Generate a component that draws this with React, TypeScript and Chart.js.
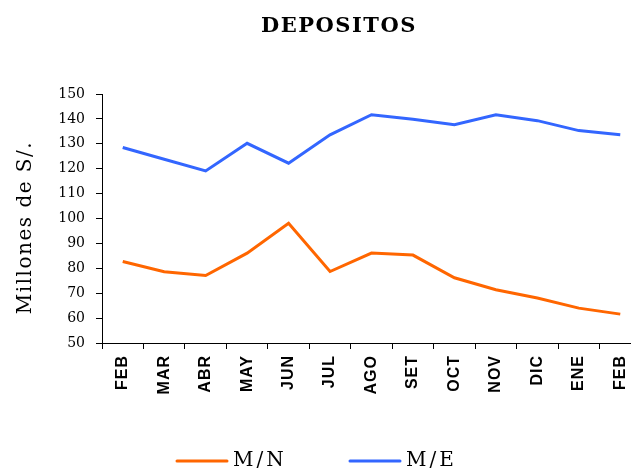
import React, { useEffect, useRef } from 'react';
import { Chart, registerables } from 'chart.js';

Chart.register(...registerables);

const categories = ['FEB', 'MAR', 'ABR', 'MAY', 'JUN', 'JUL', 'AGO', 'SET', 'OCT', 'NOV', 'DIC', 'ENE', 'FEB'];
const mnValues = [82.7, 78.6, 77.1, 86.1, 98.1, 78.7, 86.1, 85.3, 76.2, 71.4, 68.1, 64.0, 61.6];
const meValues = [128.5, 123.8, 119.1, 130.2, 122.2, 133.6, 141.7, 139.9, 137.7, 141.7, 139.3, 135.3, 133.6];
const seriesLabels = ['M/N', 'M/E'];
const seriesColors = ['#FF6600', '#3366FF'];
const chartTitle = 'DEPOSITOS';
const yAxisTitle = 'Millones de S/.';
const yMin = 50;
const yMax = 150;
const yStep = 10;

const textPlugin = {
  id: 'customText',
  afterDraw(chart: any) {
    const ctx = chart.ctx as CanvasRenderingContext2D;
    const area = chart.chartArea;
    const xs = chart.scales.x;
    ctx.save();
    ctx.fillStyle = '#000';

    // title
    ctx.font = 'bold 21px "DejaVu Serif"';
    (ctx as any).letterSpacing = '1.5px';
    ctx.textAlign = 'center';
    ctx.textBaseline = 'alphabetic';
    ctx.fillText(chartTitle, 339, 32);

    // y axis title
    ctx.save();
    ctx.font = '20px "DejaVu Serif"';
    (ctx as any).letterSpacing = '1.5px';
    ctx.translate(31, (area.top + area.bottom) / 2 + 9);
    ctx.rotate(-Math.PI / 2);
    ctx.textAlign = 'center';
    ctx.fillText(yAxisTitle, 0, 0);
    ctx.restore();

    // x labels
    ctx.font = 'bold 16px "Liberation Sans"';
    (ctx as any).letterSpacing = '1px';
    ctx.textAlign = 'right';
    ctx.textBaseline = 'middle';
    categories.forEach((c, i) => {
      const x = xs.getPixelForValue(i);
      ctx.save();
      ctx.translate(x, area.bottom + 12);
      ctx.rotate(-Math.PI / 2);
      ctx.fillText(c, 0, 0);
      ctx.restore();
    });

    // legend
    const legendStarts = [177, 350];
    chart.data.datasets.forEach((ds: any, i: number) => {
      const x0 = legendStarts[i];
      ctx.strokeStyle = ds.borderColor;
      ctx.lineWidth = 3;
      ctx.lineCap = 'round';
      ctx.beginPath();
      ctx.moveTo(x0, 461);
      ctx.lineTo(x0 + 50, 461);
      ctx.stroke();
      ctx.font = '20px "DejaVu Serif"';
      (ctx as any).letterSpacing = '3px';
      ctx.textAlign = 'left';
      ctx.textBaseline = 'alphabetic';
      ctx.fillText(ds.label, x0 + 56, 466);
    });
    ctx.restore();
  },
};

export default function App() {
  const ref = useRef<HTMLCanvasElement | null>(null);
  useEffect(() => {
    if (!ref.current) return;
    const chart = new Chart(ref.current, {
      type: 'line',
      data: {
        labels: categories,
        datasets: [
          {
            label: seriesLabels[0],
            data: mnValues,
            borderColor: seriesColors[0],
            backgroundColor: seriesColors[0],
            borderWidth: 3,
            pointRadius: 0,
            tension: 0,
          },
          {
            label: seriesLabels[1],
            data: meValues,
            borderColor: seriesColors[1],
            backgroundColor: seriesColors[1],
            borderWidth: 3,
            pointRadius: 0,
            tension: 0,
          },
        ],
      },
      options: {
        responsive: true,
        maintainAspectRatio: false,
        animation: false,
        layout: { padding: { top: 94, right: 9, bottom: 0, left: 0 } },
        plugins: {
          legend: { display: false },
          title: { display: false },
          tooltip: { enabled: false },
        },
        scales: {
          x: {
            type: 'category',
            offset: true,
            grid: {
              display: true,
              drawOnChartArea: false,
              drawTicks: true,
              tickLength: 6,
              color: '#000',
              offset: true,
            },
            border: { display: true, color: '#000', width: 1 },
            ticks: { display: false },
            afterFit: (s: any) => {
              s.height = 126;
            },
          },
          y: {
            min: yMin,
            max: yMax,
            ticks: {
              stepSize: yStep,
              color: '#000',
              font: { family: '"DejaVu Serif"', size: 14 },
              padding: 11,
            },
            grid: { drawOnChartArea: false, tickLength: 6, color: '#000' },
            border: { display: true, color: '#000', width: 1 },
            afterFit: (s: any) => {
              s.width = 102;
            },
          },
        },
      },
      plugins: [textPlugin],
    });
    return () => chart.destroy();
  }, []);

  return (
    <div style={{ position: 'fixed', left: 0, top: 0, width: 631, height: 469, overflow: 'hidden', background: '#fff' }}>
      <div style={{ position: 'relative', width: 650, height: 469 }}>
        <canvas ref={ref} />
      </div>
    </div>
  );
}
